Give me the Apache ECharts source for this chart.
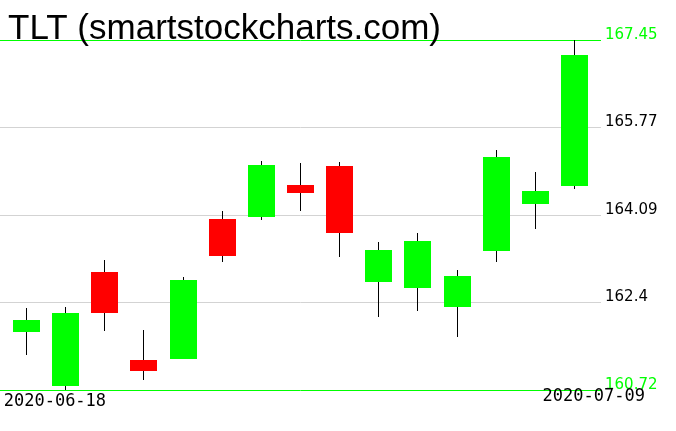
<!DOCTYPE html>
<html>
<head>
<meta charset="utf-8">
<script src="https://cdn.jsdelivr.net/npm/echarts@6/dist/echarts.min.js"></script>
<style>html,body{margin:0;padding:0;background:#fff;}#c{width:676px;height:431px;}</style>
</head>
<body>
<div id="c"></div>
<script>
const titleText = 'TLT (smartstockcharts.com)';
const dates = ['2020-06-18','2020-06-19','2020-06-22','2020-06-23','2020-06-24','2020-06-25','2020-06-26','2020-06-29','2020-06-30','2020-07-01','2020-07-02','2020-07-06','2020-07-07','2020-07-08','2020-07-09'];
const openV  = [161.84,160.80,162.99,161.30,161.32,164.01,164.05,164.66,165.03,162.80,162.69,162.32,163.40,164.30,164.65];
const closeV = [162.07,162.20,162.20,161.09,162.84,163.30,165.05,164.51,163.73,163.41,163.59,162.91,165.20,164.55,167.16];
const lowV   = [161.39,160.72,161.86,160.92,161.31,163.19,163.98,164.17,163.28,162.13,162.23,161.73,163.19,163.82,164.59];
const highV  = [162.30,162.32,163.22,161.87,162.89,164.16,165.12,165.09,165.10,163.57,163.74,163.03,165.34,164.91,167.45];
const yTickValues = [160.72, 162.40, 164.09, 165.77, 167.45];
const yTickLabels = ['160.72', '162.4', '164.09', '165.77', '167.45'];

const yMin = yTickValues[0];
const yMax = yTickValues[yTickValues.length - 1];
const yInterval = (yMax - yMin) / (yTickValues.length - 1);
const UP = '#00ff00', DOWN = '#ff0000', GRIDC = '#d3d3d3';

const candleData = dates.map((d, i) => [i, openV[i], closeV[i], lowV[i], highV[i]]);

function nearestLabel(v) {
  let best = 0;
  for (let i = 1; i < yTickValues.length; i++) {
    if (Math.abs(yTickValues[i] - v) < Math.abs(yTickValues[best] - v)) best = i;
  }
  return best;
}

const chart = echarts.init(document.getElementById('c'), null, {renderer: 'canvas'});
chart.setOption({
  animation: false,
  backgroundColor: '#fff',
  title: {
    text: titleText, left: 3, top: 7,
    textStyle: {fontFamily: 'Liberation Sans', fontSize: 35, fontWeight: 'normal', color: '#000', lineHeight: 35}
  },
  grid: [
    {left: 0, width: 601, top: 40, height: 350, containLabel: false, outerBoundsMode: 'none'},
    {left: 7, width: 587, top: 40, height: 350, containLabel: false, outerBoundsMode: 'none'}
  ],
  xAxis: [
    {type: 'value', gridIndex: 0, show: false, min: 0, max: 1},
    {
      type: 'category', gridIndex: 1, data: dates, boundaryGap: true,
      axisLine: {show: false}, axisTick: {show: false}, splitLine: {show: false},
      axisLabel: {
        margin: 0,
        interval: (idx) => idx === 0 || idx === dates.length - 1,
        formatter: (val, idx) => (idx === 0 ? '{f|' + val + '}' : '{l|' + val + '}'),
        rich: {
          f: {fontFamily: 'DejaVu Sans Mono', fontSize: 17, color: '#000', width: 159, align: 'right', lineHeight: 24},
          l: {fontFamily: 'DejaVu Sans Mono', fontSize: 17, color: '#000', width: 141, align: 'right', lineHeight: 14}
        }
      }
    }
  ],
  yAxis: [
    {
      type: 'value', gridIndex: 0, position: 'right', min: yMin, max: yMax, interval: yInterval,
      axisLine: {show: false}, axisTick: {show: false},
      splitLine: {show: true, lineStyle: {width: 1, color: [UP, GRIDC, GRIDC, GRIDC, UP]}},
      axisLabel: {
        margin: 4, fontFamily: 'DejaVu Sans', fontSize: 15, verticalAlign: 'bottom', lineHeight: 10,
        showMinLabel: true, showMaxLabel: true,
        formatter: (v) => yTickLabels[nearestLabel(v)],
        color: (v) => {
          const i = nearestLabel(Number(v));
          return (i === 0 || i === yTickValues.length - 1) ? UP : '#000';
        }
      }
    },
    {type: 'value', gridIndex: 1, min: yMin, max: yMax, show: false, splitLine: {show: false}}
  ],
  series: [{
    type: 'custom',
    xAxisIndex: 1, yAxisIndex: 1,
    data: candleData,
    encode: {x: 0, y: [1, 2, 3, 4]},
    renderItem: function (params, api) {
      const x = api.value(0);
      const o = api.value(1), c = api.value(2), lo = api.value(3), hi = api.value(4);
      const pO = api.coord([x, o]), pC = api.coord([x, c]);
      const pL = api.coord([x, lo]), pH = api.coord([x, hi]);
      const band = api.size([1, 0])[0];
      const w = Math.round(band * 0.69);
      const cx = Math.floor(pO[0]);
      const top = Math.round(Math.min(pO[1], pC[1]));
      const bot = Math.round(Math.max(pO[1], pC[1]));
      return {
        type: 'group',
        children: [
          {type: 'line', shape: {x1: cx + 0.5, y1: Math.round(pH[1]), x2: cx + 0.5, y2: Math.round(pL[1])},
           style: {stroke: '#000', lineWidth: 1}},
          {type: 'rect', shape: {x: cx - Math.floor(w / 2), y: top, width: w, height: Math.max(1, bot - top)},
           style: {fill: c >= o ? UP : DOWN}}
        ]
      };
    }
  }]
});
</script>
</body>
</html>
